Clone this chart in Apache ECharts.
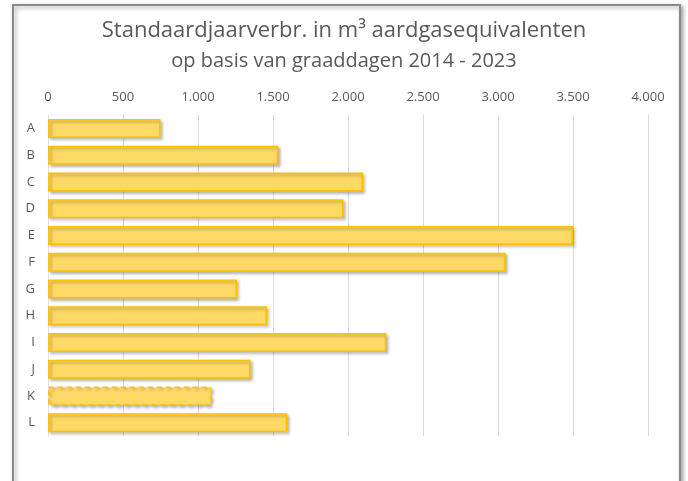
<!DOCTYPE html>
<html>
<head>
<meta charset="utf-8">
<script src="https://cdn.jsdelivr.net/npm/echarts@6/dist/echarts.min.js"></script>
<style>
  html, body { margin: 0; padding: 0; background: #fff; }
  #container { width: 688px; height: 481px; }
</style>
</head>
<body>
<div id="container"></div>
<script>
var categories = ['A', 'B', 'C', 'D', 'E', 'F', 'G', 'H', 'I', 'J', 'K', 'L'];
var verbruik = [750, 1535, 2100, 1970, 3500, 3050, 1260, 1460, 2255, 1350, 1090, 1595];
var dashedBars = ['K']; // K heeft een gestippelde rand

function fmt(v) {
  // duizendtallen met een punt, zoals in het origineel
  return String(v).replace(/\B(?=(\d{3})+(?!\d))/g, '.');
}

var myChart = echarts.init(document.getElementById('container'));

var barData = verbruik.map(function (v, i) {
  var item = { value: v };
  if (dashedBars.indexOf(categories[i]) >= 0) {
    item.itemStyle = { borderType: [5, 4] };
  }
  return item;
});

var option = {
  backgroundColor: '#fff',
  textStyle: { fontFamily: 'Open Sans' },
  graphic: [{
    type: 'rect',
    shape: { x: 13, y: 5, width: 667, height: 520 },
    style: {
      fill: '#fff',
      stroke: '#8a8a8a',
      lineWidth: 2,
      shadowColor: 'rgba(0,0,0,0.35)',
      shadowBlur: 4,
      shadowOffsetX: 2,
      shadowOffsetY: 2
    },
    z: -10
  }],
  title: [{
    text: 'Standaardjaarverbr. in m³ aardgasequivalenten',
    left: 'center',
    top: 15,
    textStyle: { fontSize: 22, fontWeight: 'normal', color: '#595959', fontFamily: 'Open Sans' }
  }, {
    text: 'op basis van graaddagen 2014 - 2023',
    left: 'center',
    top: 46,
    textStyle: { fontSize: 20, fontWeight: 'normal', color: '#595959', fontFamily: 'Open Sans' }
  }],
  grid: {
    left: 48,
    right: 40,
    top: 115,
    bottom: 45
  },
  xAxis: {
    type: 'value',
    position: 'top',
    min: 0,
    max: 4000,
    interval: 500,
    axisLine: { show: false },
    axisTick: { show: false },
    axisLabel: {
      color: '#595959',
      fontSize: 13,
      margin: 11,
      formatter: fmt
    },
    splitLine: { lineStyle: { color: '#d9d9d9', width: 1 } }
  },
  yAxis: {
    type: 'category',
    inverse: true,
    data: categories,
    axisLine: { show: true, lineStyle: { color: '#e3e3e3' } },
    axisTick: { show: false },
    axisLabel: { color: '#595959', fontSize: 13, margin: 13 }
  },
  series: [{
    name: 'Standaardjaarverbruik',
    type: 'bar',
    data: barData,
    barWidth: 19,
    itemStyle: {
      color: '#FFD966',
      borderColor: '#FFC000',
      borderWidth: 1.5,
      shadowColor: 'rgba(0,0,0,0.28)',
      shadowBlur: 3,
      shadowOffsetX: 2,
      shadowOffsetY: 2
    },
    animation: false
  }]
};
myChart.setOption(option, true);
</script>
</body>
</html>
